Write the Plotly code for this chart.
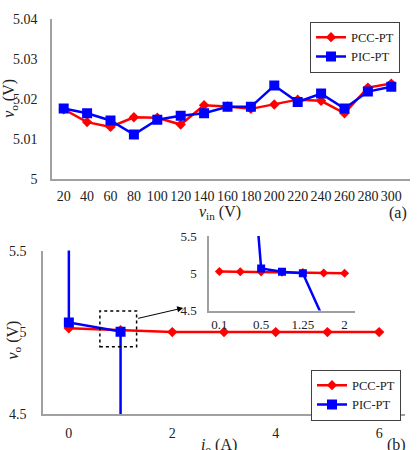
import plotly.graph_objects as go

FONT = "Liberation Serif, Times New Roman, Tinos, DejaVu Serif, serif"
RED = "#FF0000"
BLUE = "#0000FF"
AXC = "#A0A0A0"

# ---------- data: panel (a) ----------
vin_labels = ["20", "40", "60", "80", "100", "120", "140", "160", "180", "200",
              "220", "240", "260", "280", "300"]
pcc_a = [5.0174, 5.0142, 5.0130, 5.0154, 5.0153, 5.0136, 5.0184, 5.0181,
         5.0175, 5.0186, 5.0198, 5.0195, 5.0164, 5.0228, 5.0238]
pic_a = [5.0176, 5.0164, 5.0146, 5.0111, 5.0148, 5.0158, 5.0164, 5.0180,
         5.0180, 5.0233, 5.0192, 5.0213, 5.0176, 5.0218, 5.0230]
a_yticks = [5, 5.01, 5.02, 5.03, 5.04]
a_yticktext = ["5", "5.01", "5.02", "5.03", "5.04"]

# ---------- data: panel (b) ----------
io_pcc = [0, 1, 2, 3, 4, 5, 6]
pcc_b = [5.025, 5.012, 5.001, 5.002, 5.001, 5.001, 5.001]
io_pic = [0, 0, 1, 1]
pic_b = [6.5, 5.06, 5.004, 3.5]
b_xticks = [0, 2, 4, 6]
b_yticks = [4.5, 5, 5.5]
b_yticktext = ["4.5", "5", "5.5"]

# ---------- data: inset ----------
inset_cats = ["0.1", "0.25", "0.5", "1", "1.25", "1.5", "2"]
inset_shown = ["0.1", "0.5", "1.25", "2"]
pcc_in = [5.025, 5.022, 5.02, 5.015, 5.01, 5.005, 5.0]
pic_in = [None, 8.5, 5.066, 5.02, 5.0, 4.38, None]

# zoom box and arrow (data coords of panel b)
box_x = [0.6, 1.31]
box_y = [4.911, 5.131]
arrow_tail = [1.31, 5.083]
arrow_head = [2.21, 5.149]

fig = go.Figure()

# panel (a)
fig.add_trace(go.Scatter(x=vin_labels, y=pcc_a, name="PCC-PT", mode="lines+markers",
                         line=dict(color=RED, width=2.5),
                         marker=dict(symbol="diamond", size=8, color=RED),
                         xaxis="x", yaxis="y", legend="legend"))
fig.add_trace(go.Scatter(x=vin_labels, y=pic_a, name="PIC-PT", mode="lines+markers",
                         line=dict(color=BLUE, width=2.5),
                         marker=dict(symbol="square", size=10, color=BLUE),
                         xaxis="x", yaxis="y", legend="legend"))

# panel (b)
fig.add_trace(go.Scatter(x=io_pcc, y=pcc_b, name="PCC-PT", mode="lines+markers",
                         line=dict(color=RED, width=2.5),
                         marker=dict(symbol="diamond", size=8, color=RED),
                         xaxis="x2", yaxis="y2", legend="legend2"))
fig.add_trace(go.Scatter(x=io_pic, y=pic_b, name="PIC-PT", mode="lines+markers",
                         line=dict(color=BLUE, width=2.5),
                         marker=dict(symbol="square", size=10, color=BLUE),
                         xaxis="x2", yaxis="y2", legend="legend2"))

# inset
fig.add_trace(go.Scatter(x=inset_cats, y=pcc_in, name="PCC-PT", mode="lines+markers",
                         line=dict(color=RED, width=2.5),
                         marker=dict(symbol="diamond", size=7, color=RED),
                         xaxis="x3", yaxis="y3", showlegend=False))
fig.add_trace(go.Scatter(x=inset_cats, y=pic_in, name="PIC-PT", mode="lines+markers",
                         line=dict(color=BLUE, width=2.5),
                         marker=dict(symbol="square", size=8, color=BLUE),
                         xaxis="x3", yaxis="y3", showlegend=False, connectgaps=False))

tickfont = dict(family=FONT, size=14, color="#222222")
axis_common = dict(showgrid=False, zeroline=False, showline=True, linecolor=AXC,
                   linewidth=1.5, ticks="", tickfont=tickfont, fixedrange=True)

fig.update_layout(
    width=418, height=450,
    margin=dict(l=0, r=0, t=0, b=0),
    paper_bgcolor="white", plot_bgcolor="white",
    font=dict(family=FONT, color="#222222"),
    xaxis=dict(axis_common, domain=[52/418, 410/418], type="category",
               range=[-0.5, 14.8], anchor="y", ticklabelstandoff=3),
    yaxis=dict(axis_common, domain=[1-178/450, 1-12/450], range=[5, 5.04],
               tickvals=a_yticks, ticktext=a_yticktext, anchor="x",
               ticklabelstandoff=10),
    xaxis2=dict(axis_common, domain=[43/418, 405/418], range=[-0.5, 6.5],
                tickvals=b_xticks, anchor="y2", ticklabelstandoff=5),
    yaxis2=dict(axis_common, domain=[1-421/450, 1-252/450], range=[4.5, 5.5],
                tickvals=b_yticks, ticktext=b_yticktext, anchor="x2",
                ticklabelstandoff=12),
    xaxis3=dict(axis_common, domain=[209/418, 355/418], type="category",
                range=[-0.5, 6.5], tickvals=inset_shown, anchor="y3",
                tickfont=dict(family=FONT, size=13, color="#222222"),
                ticklabelstandoff=1),
    yaxis3=dict(axis_common, domain=[1-314/450, 1-237/450], range=[4.5, 5.5],
                tickvals=b_yticks, ticktext=b_yticktext, anchor="x3",
                tickfont=dict(family=FONT, size=13, color="#222222"),
                ticklabelstandoff=8),
    legend=dict(x=310/418, y=1-15/450, xanchor="left", yanchor="top",
                bordercolor="#404040", borderwidth=1, bgcolor="white",
                font=dict(family=FONT, size=12.5, color="#222222"),
                itemwidth=30, tracegroupgap=0),
    legend2=dict(x=311/418, y=1-375/450, xanchor="left", yanchor="top",
                 bordercolor="#404040", borderwidth=1, bgcolor="white",
                 font=dict(family=FONT, size=12.5, color="#222222"),
                 itemwidth=30, tracegroupgap=0),
    showlegend=True,
)

# dashed zoom box
fig.add_shape(type="rect", xref="x2", yref="y2", x0=box_x[0], x1=box_x[1],
              y0=box_y[0], y1=box_y[1], line=dict(color="black", width=1.5, dash="dot"))

# arrow to inset
fig.add_annotation(xref="x2", yref="y2", x=arrow_head[0], y=arrow_head[1],
                   axref="x2", ayref="y2", ax=arrow_tail[0], ay=arrow_tail[1],
                   text="", showarrow=True, arrowhead=2, arrowsize=1.2,
                   arrowwidth=1, arrowcolor="black", standoff=0, startstandoff=0)

def paper_text(txt, px, py, size=16, angle=0, yanchor="middle"):
    fig.add_annotation(xref="paper", yref="paper", x=px/418, y=1-py/450,
                       text=txt, showarrow=False, textangle=angle,
                       font=dict(family=FONT, size=size, color="#222222"),
                       xanchor="center", yanchor=yanchor)

paper_text("<i>v</i><sub>o</sub> (V)", 10, 95, angle=-90)
paper_text("<i>v</i><sub>in</sub> (V)", 220, 213)
paper_text("(a)", 398, 213)
paper_text("<i>v</i><sub>o</sub> (V)", 13, 345, angle=-90)
paper_text("<i>i</i><sub>o</sub> (A)", 219, 442, yanchor="top")
paper_text("(b)", 396, 442, yanchor="top")

fig.write_html("out.html")
